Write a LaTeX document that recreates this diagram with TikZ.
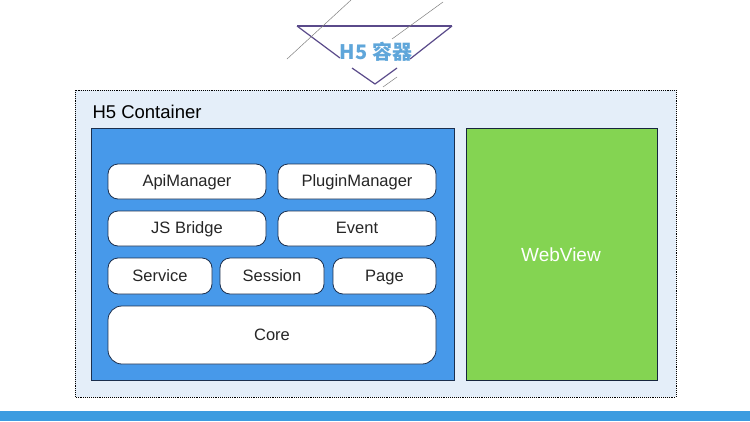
\documentclass[tikz,border=0pt]{standalone}
\usepackage{fontspec}
\setmainfont{Liberation Sans}
\newfontfamily\cjk{Noto Sans CJK SC}
\definecolor{outerfill}{HTML}{E4EEF9}
\definecolor{bluefill}{HTML}{4799EA}
\definecolor{greenfill}{HTML}{84D452}
\definecolor{navy}{HTML}{1B2F4E}
\definecolor{barblue}{HTML}{3C9CE0}
\definecolor{titleblue}{HTML}{5FA6DA}
\definecolor{tri}{HTML}{5A4A8A}
\tikzset{
  px/.style={x=1pt,y=-1pt},
  module/.style={draw=navy, line width=0.8pt, fill=white, rounded corners=10pt, font=\fontsize{16.5}{18}\selectfont, text=black!85, text height=2.0ex, text depth=0ex},
}
\begin{document}
\begin{tikzpicture}[px]
\useasboundingbox (0,0) rectangle (750,421);
\fill[white] (0,0) rectangle (750,421);
% bottom bar
\fill[barblue] (0,411) rectangle (750,421);
% top emblem
\draw[tri, line width=1.2pt] (297,26) -- (452,26);
\draw[tri, line width=1.2pt] (297,26) -- (340,58);
\draw[tri, line width=1.2pt] (452,26) -- (410,59);
\draw[tri, line width=1.2pt] (352,68) -- (375,84) -- (397,68);
\draw[gray, line width=0.5pt] (351,0) -- (287,59);
\draw[gray, line width=0.5pt] (443,2) -- (392,39);
\draw[gray, line width=0.5pt] (383,87) -- (397,77);
\node[text=titleblue, font=\cjk\bfseries\fontsize{20}{22}\selectfont] (title) at (376,52) {H5 容器};
% outer container
\draw[fill=outerfill, densely dotted, line width=0.9pt] (75,90) rectangle (676,397);
\node[anchor=west, font=\fontsize{18.5}{20}\selectfont] (lbl) at (89,112) {H5 Container};
% blue panel
\draw[navy, fill=bluefill, line width=1pt] (91,128) rectangle (454,380);
% green webview
\draw[navy!80!black, fill=greenfill, line width=1pt] (466,128) rectangle (657,380);
\node[text=white, font=\fontsize{19}{21}\selectfont] (wv) at (561,255) {WebView};
% modules
\node[module, minimum width=158pt, minimum height=35pt] (api) at (187,181.5) {ApiManager};
\node[module, minimum width=158pt, minimum height=35pt] (plugin) at (357,181.5) {PluginManager};
\node[module, minimum width=158pt, minimum height=35pt] (jsb) at (187,228.5) {JS Bridge};
\node[module, minimum width=158pt, minimum height=35pt] (event) at (357,228.5) {Event};
\node[module, minimum width=104pt, minimum height=36pt] (service) at (160,276) {Service};
\node[module, minimum width=104pt, minimum height=36pt] (session) at (272,276) {Session};
\node[module, minimum width=103pt, minimum height=36pt] (page) at (384.5,276) {Page};
\node[module, minimum width=328pt, minimum height=58pt, rounded corners=14pt] (core) at (272,335) {Core};
\end{tikzpicture}
\end{document}
